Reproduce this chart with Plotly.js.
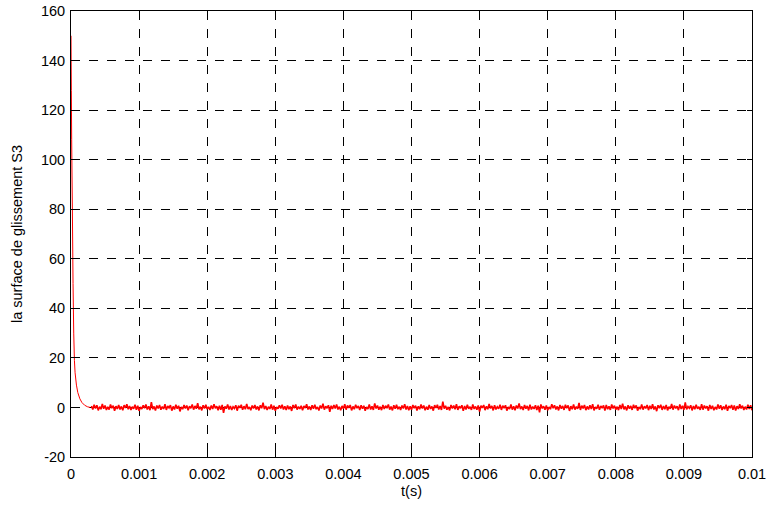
<!DOCTYPE html>
<html>
<head>
<meta charset="utf-8">
<script src="https://cdn.plot.ly/plotly-3.0.1.min.js"></script>
<style>html,body{margin:0;padding:0;background:#fff;}#chart{width:768px;height:506px;}</style>
</head>
<body>
<div id="chart"></div>
<script>
// transient part of the sliding surface S3
const tTransient = [0, 0.000005, 0.00001, 0.000015, 0.00002, 0.00003, 0.00004, 0.00005, 0.00006, 0.00008, 0.0001, 0.00013, 0.00016, 0.0002, 0.00024, 0.00028];
const sTransient = [150, 128, 108, 93, 80, 50, 30, 19, 14, 9, 6, 3.5, 2, 0.9, 0.3, 0];

// chattering around zero after convergence (sampled from t = 0.0003 s, step 20 us)
const noiseStart = 0.0003;
const noiseStep = 0.00002;
const sNoise = [
 0.6,-0.8,1.1,-0.4,0.9,-1.2,0.3,-0.7,1.4,-0.5,0.8,-1.0,0.2,-0.9,1.2,-0.3,0.7,-1.3,0.5,-0.6,
 1.0,-0.8,0.4,-1.1,0.9,-0.2,1.3,-0.7,0.6,-1.0,0.3,-0.5,1.1,-0.9,0.7,-1.4,0.2,-0.6,0.9,-0.3,
 1.2,-0.8,0.5,-1.1,2.1,-0.7,0.4,-1.2,0.8,-0.4,1.0,-0.9,0.3,-0.6,1.3,-1.0,0.6,-0.2,0.9,-1.3,
 0.4,-0.8,1.1,-0.5,0.7,-1.6,0.2,-0.7,1.0,-0.4,0.8,-1.1,0.5,-0.3,1.2,-0.9,0.6,-0.5,1.7,-0.8,
 0.3,-1.2,0.9,-0.4,1.1,-0.7,0.2,-1.0,0.8,-0.6,1.3,-0.3,0.5,-1.1,0.7,-0.9,1.0,-2.2,0.4,-0.5,
 1.2,-0.8,0.6,-1.0,0.3,-0.4,0.9,-1.3,0.7,-0.2,1.1,-0.9,0.5,-0.7,1.4,-0.6,0.2,-1.1,0.8,-0.4,
 1.0,-0.8,0.4,-1.2,0.9,-0.3,1.9,-0.7,0.6,-1.0,0.3,-0.6,1.2,-0.9,0.7,-1.3,0.2,-0.5,0.9,-0.4,
 1.1,-0.8,0.5,-1.0,0.8,-0.7,0.4,-1.4,1.0,-0.3,1.2,-0.9,0.3,-0.6,0.7,-1.1,0.6,-0.2,1.3,-0.8,
 0.4,-1.0,0.9,-0.5,1.1,-0.7,0.2,-1.2,0.8,-0.4,1.5,-0.9,0.5,-0.3,0.9,-1.8,0.7,-0.6,1.0,-0.4,
 1.2,-0.8,0.3,-1.1,0.6,-0.5,1.3,-0.9,0.8,-0.2,1.0,-1.2,0.4,-0.7,1.1,-0.3,0.6,-1.0,0.9,-0.5,
 0.7,-1.3,0.2,-0.6,1.2,-0.8,0.5,-1.0,1.6,-0.4,0.8,-0.9,0.3,-1.1,1.0,-0.6,0.7,-0.3,1.2,-0.9,
 0.4,-1.2,0.9,-0.5,1.1,-0.7,0.3,-1.0,0.8,-0.4,1.3,-0.8,0.6,-1.1,0.5,-0.9,1.0,-0.3,0.7,-1.2,
 0.5,-0.7,1.2,-0.4,0.8,-1.1,0.3,-0.9,1.0,-0.6,0.4,-1.3,0.9,-0.2,1.1,-0.8,0.6,-1.0,2.3,-0.5,
 0.7,-0.9,0.2,-1.2,1.0,-0.4,0.8,-0.7,1.3,-1.0,0.5,-0.3,0.9,-1.4,0.6,-0.8,1.1,-0.5,0.3,-1.0,
 1.2,-0.6,0.4,-0.9,0.8,-1.7,0.7,-0.2,1.0,-1.1,0.5,-0.7,1.4,-0.4,0.6,-1.2,0.9,-0.8,0.3,-0.5,
 1.1,-1.0,0.7,-0.3,0.9,-1.3,0.2,-0.6,1.2,-0.9,0.5,-1.1,0.8,-0.4,1.6,-0.7,0.4,-1.0,1.0,-0.5,
 0.6,-1.2,1.1,-0.8,0.3,-0.6,0.9,-1.0,0.7,-2.0,1.2,-0.4,0.5,-0.9,0.8,-1.1,0.2,-0.7,1.3,-0.3,
 0.9,-0.8,0.4,-1.2,1.0,-0.5,0.6,-1.0,1.1,-0.3,0.8,-1.4,0.5,-0.7,1.2,-0.9,0.3,-0.6,1.8,-1.0,
 0.7,-0.4,1.0,-1.1,0.4,-0.8,0.9,-0.6,1.3,-1.2,0.2,-0.5,1.1,-0.9,0.6,-0.3,0.8,-1.3,1.0,-0.7,
 0.5,-1.0,1.2,-0.4,0.7,-0.9,0.3,-1.1,1.0,-0.6,1.5,-0.8,0.4,-1.2,0.9,-0.5,0.6,-1.0,1.1,-0.3,
 0.8,-1.3,0.2,-0.7,1.2,-0.9,0.5,-0.4,1.0,-1.1,0.7,-0.6,1.3,-0.8,0.4,-1.5,0.9,-0.3,1.1,-1.0,
 0.6,-0.7,1.0,-1.2,0.3,-0.5,1.4,-0.9,0.8,-0.4,0.5,-1.1,1.2,-0.6,0.7,-1.0,2.0,-0.8,0.4,-0.3,
 0.9,-1.2,0.6,-0.7,1.1,-0.5,0.3,-1.0,1.3,-0.9,0.8,-0.4,0.5,-1.3,1.0,-0.6,0.7,-1.1,0.2,-0.8,
 1.2,-0.5,0.9,-1.0,0.4,-0.7,1.1,-1.4,0.6,-0.3,1.0,-0.9,0.8,-1.2,0.5,-0.6,1.3,-0.4,0.7,-1.0,
 0.3,-0.8,1.1,-0.6,0.9,-1.1
];

const xTicks = [0, 0.001, 0.002, 0.003, 0.004, 0.005, 0.006, 0.007, 0.008, 0.009, 0.01];
const xTickLabels = ['0','0.001','0.002','0.003','0.004','0.005','0.006','0.007','0.008','0.009','0.01'];
const yTicks = [-20, 0, 20, 40, 60, 80, 100, 120, 140, 160];
const yTickLabels = ['-20','0','20','40','60','80','100','120','140','160'];

const red = '#ff0000';
const traces = [
  {x: tTransient, y: sTransient, type: 'scatter', mode: 'lines', line: {color: red, width: 1, simplify: false}, hoverinfo: 'skip'},
  {x0: noiseStart, dx: noiseStep, y: sNoise, type: 'scatter', mode: 'lines', line: {color: red, width: 1.6, simplify: false}, hoverinfo: 'skip'}
];

const fontFam = 'Liberation Sans, Arial, Helvetica, sans-serif';
const axisCommon = {
  showline: true, linecolor: '#000', linewidth: 1, mirror: 'ticks',
  ticks: 'inside', ticklen: 5, tickcolor: '#000', tickwidth: 1,
  showgrid: true, gridcolor: '#000', griddash: 'dash', gridwidth: 1,
  zeroline: false, automargin: false,
  tickfont: {family: fontFam, size: 14.5, color: '#000'}
};

const layout = {
  width: 768, height: 506,
  margin: {l: 71, r: 16, t: 11, b: 49},
  paper_bgcolor: '#fff', plot_bgcolor: '#fff',
  showlegend: false,
  font: {family: fontFam, size: 14.5, color: '#000'},
  xaxis: Object.assign({}, axisCommon, {
    range: [0, 0.01], tickvals: xTicks, ticktext: xTickLabels, ticklabelstandoff: 4,
    title: {text: 't(s)', font: {size: 14.5}, standoff: 4}
  }),
  yaxis: Object.assign({}, axisCommon, {
    range: [-20, 160], tickvals: yTicks, ticktext: yTickLabels, ticklabelstandoff: 2,
    title: {text: 'la surface de glissement S3', font: {size: 14.5}, standoff: 14}
  })
};

Plotly.newPlot('chart', traces, layout, {displayModeBar: false, staticPlot: true});
</script>
</body>
</html>
